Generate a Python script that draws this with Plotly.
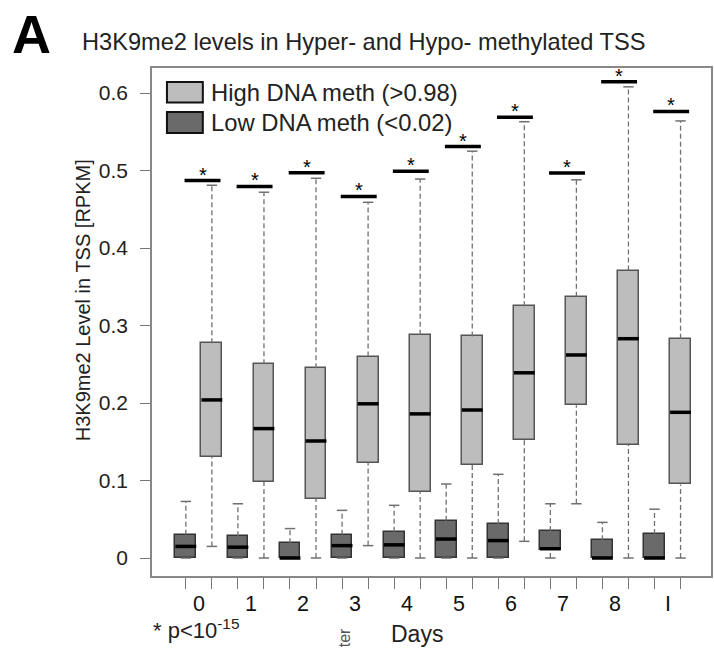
import plotly.graph_objects as go

# ---------------- data ----------------
days = ["0", "1", "2", "3", "4", "5", "6", "7", "8", "I"]

# High DNA meth (>0.98)  (light boxes)
high_lo  = [0.015, 0.000, 0.000, 0.016, 0.000, 0.000, 0.0215, 0.070, 0.000, 0.000]
high_q1  = [0.131, 0.098, 0.076, 0.123, 0.085, 0.120, 0.152, 0.197, 0.146, 0.095]
high_med = [0.204, 0.167, 0.151, 0.199, 0.186, 0.191, 0.239, 0.262, 0.283, 0.188]
high_q3  = [0.277, 0.250, 0.245, 0.260, 0.288, 0.286, 0.325, 0.337, 0.371, 0.283]
high_hi  = [0.481, 0.472, 0.490, 0.459, 0.489, 0.525, 0.563, 0.488, 0.608, 0.564]

# Low DNA meth (<0.02)  (dark boxes)
low_lo  = [0.0, 0.0, 0.0, 0.0, 0.0, 0.0, 0.0, 0.0, 0.0, 0.0]
low_q1  = [0.0, 0.0, 0.0, 0.0, 0.0, 0.0, 0.0, 0.0107, 0.0, 0.0]
low_med = [0.015, 0.014, 0.0, 0.016, 0.017, 0.0245, 0.0225, 0.012, 0.0, 0.0]
low_q3  = [0.030, 0.028, 0.019, 0.030, 0.034, 0.048, 0.044, 0.035, 0.023, 0.031]
low_hi  = [0.073, 0.070, 0.038, 0.0615, 0.068, 0.0955, 0.108, 0.070, 0.046, 0.063]

# significance bars (p < 1e-15)
sig_y = [0.487, 0.4795, 0.497, 0.4666, 0.499, 0.531, 0.5686, 0.4968, 0.6146, 0.5763]

y_ticks = [0, 0.1, 0.2, 0.3, 0.4, 0.5, 0.6]
y_ticktext = ["0", "0.1", "0.2", "0.3", "0.4", "0.5", "0.6"]

# ---------------- layout geometry ----------------
W, H = 714, 650
ML, MR, MT, MB = 152, 1, 68, 74
PW, PH = W - ML - MR, H - MT - MB


def px(x):
    return (x - ML) / PW


def py(y):
    return (H - MB - y) / PH


FONT = "Liberation Sans, Arial, Helvetica, sans-serif"
LIGHT = "#bdbdbd"
DARK = "#6a6a6a"

n = len(days)
pos_low = [2 * i + 1 for i in range(n)]
pos_high = [2 * i + 2 for i in range(n)]
pair_c = [2 * i + 1.5 for i in range(n)]

fig = go.Figure()


def add_group(pos, lo, q1, med, q3, hi, fill, edge, name):
    # dashed whiskers
    wx, wy = [], []
    for p, a, b, c, d in zip(pos, lo, q1, q3, hi):
        wx += [p, p, None, p, p, None]
        wy += [c, d, None, a, b, None]
    fig.add_trace(go.Scatter(x=wx, y=wy, mode="lines", showlegend=False,
                             line=dict(color="#707070", width=1.3, dash="5px,3px"),
                             hoverinfo="skip"))
    # whisker caps
    cx, cy = [], []
    for p, a, d in zip(pos, lo, hi):
        cx += [p - 0.2, p + 0.2, None, p - 0.2, p + 0.2, None]
        cy += [d, d, None, a, a, None]
    fig.add_trace(go.Scatter(x=cx, y=cy, mode="lines", showlegend=False,
                             line=dict(color="#707070", width=1.5),
                             hoverinfo="skip"))
    # boxes
    fig.add_trace(go.Bar(x=pos, y=[c - b for b, c in zip(q1, q3)], base=q1,
                         width=0.8, name=name, showlegend=False,
                         marker=dict(color=fill, line=dict(color=edge, width=1.5))))
    # medians
    mx, my = [], []
    for p, m in zip(pos, med):
        mx += [p - 0.4, p + 0.4, None]
        my += [m, m, None]
    fig.add_trace(go.Scatter(x=mx, y=my, mode="lines", showlegend=False,
                             line=dict(color="black", width=3.5),
                             hoverinfo="skip"))


add_group(pos_low, low_lo, low_q1, low_med, low_q3, low_hi, DARK, "#333333",
          "Low DNA meth (<0.02)")
add_group(pos_high, high_lo, high_q1, high_med, high_q3, high_hi, LIGHT, "#555555",
          "High DNA meth (>0.98)")

# significance bars
sx, sy = [], []
for c, s in zip(pair_c, sig_y):
    sx += [c - 0.55, c + 0.83, None]
    sy += [s, s, None]
fig.add_trace(go.Scatter(x=sx, y=sy, mode="lines", showlegend=False,
                         line=dict(color="black", width=3.5), hoverinfo="skip"))

annotations = []
for c, s in zip(pair_c, sig_y):
    annotations.append(dict(x=c + 0.14, y=s, xref="x", yref="y", text="*",
                            showarrow=False, yanchor="middle", yshift=6,
                            font=dict(family=FONT, size=20, color="black")))

# x group labels
for c, d in zip(pair_c, days):
    annotations.append(dict(x=c, y=py(604), xref="x", yref="paper", text=d,
                            showarrow=False, yanchor="middle",
                            font=dict(family=FONT, size=21.5, color="#111")))

# titles and texts
annotations += [
    dict(x=px(9), y=py(34), xref="paper", yref="paper", text="<b>A</b>",
         showarrow=False, xanchor="left", yanchor="middle",
         font=dict(family=FONT, size=54, color="black")),
    dict(x=px(80), y=py(42), xref="paper", yref="paper",
         text="H3K9me2 levels in Hyper- and Hypo- methylated TSS",
         showarrow=False, xanchor="left", yanchor="middle",
         font=dict(family=FONT, size=23.6, color="#222")),
    dict(x=px(83), y=py(300), xref="paper", yref="paper",
         text="H3K9me2 Level in TSS [RPKM]", textangle=-90,
         showarrow=False, xanchor="center", yanchor="middle",
         font=dict(family=FONT, size=20, color="#222")),
    dict(x=px(151), y=py(629), xref="paper", yref="paper",
         text="* p<10<sup>-15</sup>",
         showarrow=False, xanchor="left", yanchor="middle",
         font=dict(family=FONT, size=22, color="#222")),
    dict(x=px(418), y=py(634), xref="paper", yref="paper", text="Days",
         showarrow=False, xanchor="center", yanchor="middle",
         font=dict(family=FONT, size=23, color="#222")),
    dict(x=px(345), y=py(638), xref="paper", yref="paper", text="ter",
         textangle=-90, showarrow=False, xanchor="center", yanchor="middle",
         font=dict(family=FONT, size=16, color="#555")),
    dict(x=px(209), y=py(92), xref="paper", yref="paper",
         text="High DNA meth (>0.98)", showarrow=False,
         xanchor="left", yanchor="middle",
         font=dict(family=FONT, size=23.8, color="#222")),
    dict(x=px(209), y=py(122.5), xref="paper", yref="paper",
         text="Low DNA meth (<0.02)", showarrow=False,
         xanchor="left", yanchor="middle",
         font=dict(family=FONT, size=23.8, color="#222")),
]

shapes = [
    dict(type="rect", xref="paper", yref="paper",
         x0=px(167), x1=px(203), y0=py(102.5), y1=py(82),
         fillcolor=LIGHT, line=dict(color="#111", width=2)),
    dict(type="rect", xref="paper", yref="paper",
         x0=px(167), x1=px(203), y0=py(133), y1=py(112),
         fillcolor=DARK, line=dict(color="#111", width=2)),
]

fig.update_layout(
    width=W, height=H,
    margin=dict(l=ML, r=MR, t=MT, b=MB, pad=0),
    paper_bgcolor="white", plot_bgcolor="white",
    barmode="overlay", bargap=0,
    showlegend=False,
    annotations=annotations, shapes=shapes,
    font=dict(family=FONT, color="#222"),
    xaxis=dict(range=[-0.3, 21.17], tickvals=pos_low + pos_high,
               showticklabels=False, ticks="outside", ticklen=11,
               tickcolor="#777", tickwidth=1.3, showgrid=False, zeroline=False,
               showline=True, mirror=True, linecolor="#888", linewidth=1.5,
               fixedrange=True),
    yaxis=dict(range=[-0.0232, 0.6323], tickvals=y_ticks, ticktext=y_ticktext,
               ticks="outside", ticklen=10, tickcolor="#777", tickwidth=1.3,
               ticklabelstandoff=8,
               tickfont=dict(family=FONT, size=21, color="#222"),
               showgrid=False, zeroline=False,
               showline=True, mirror=True, linecolor="#888", linewidth=1.5,
               fixedrange=True),
)

fig.write_html("out.html")
